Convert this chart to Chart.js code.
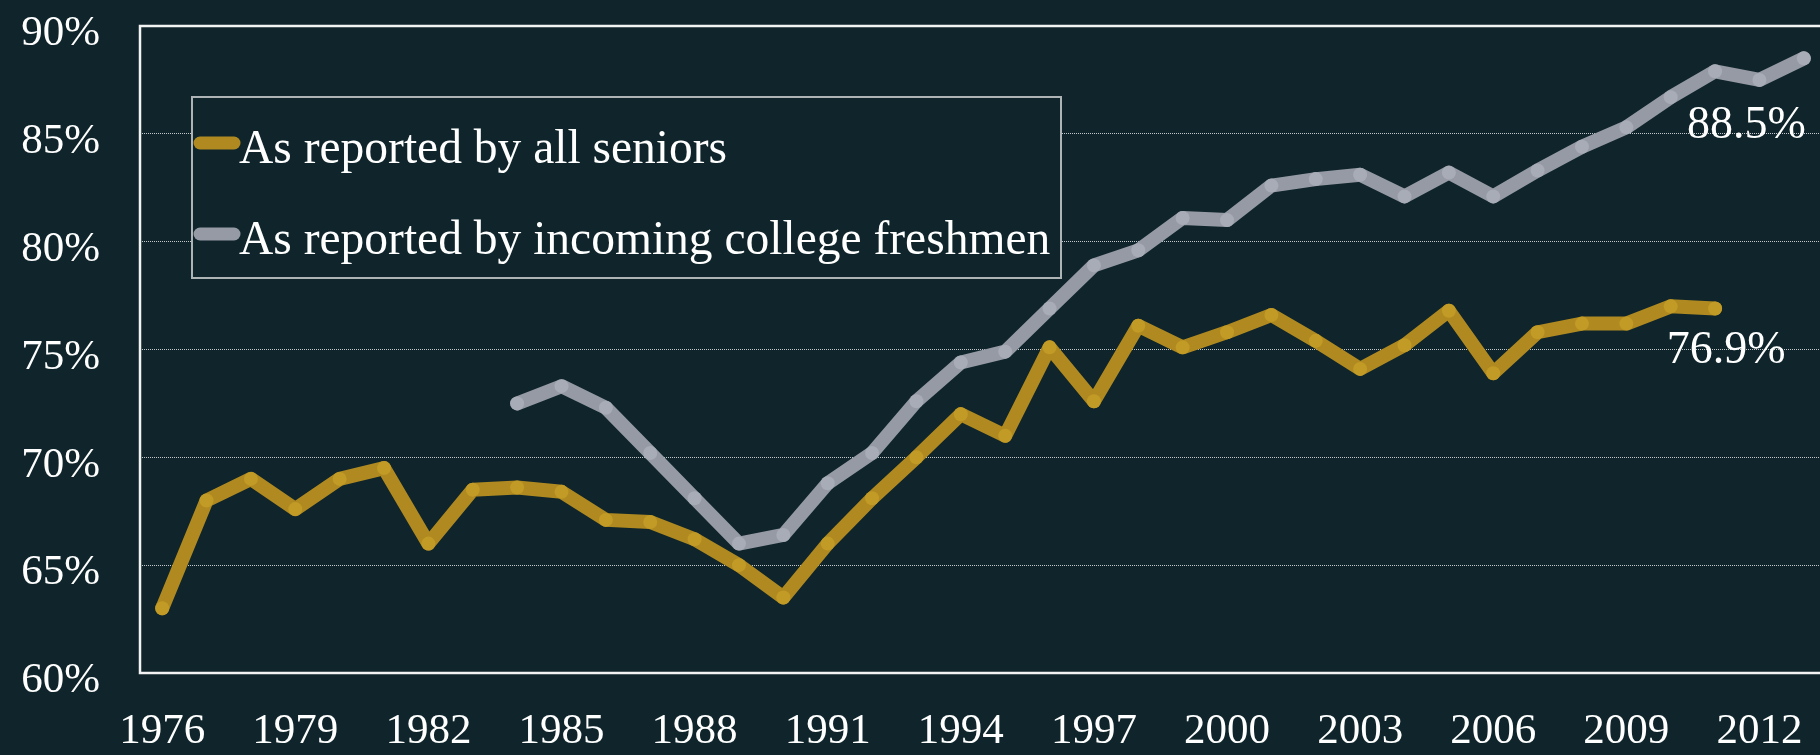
<!DOCTYPE html>
<html><head><meta charset="utf-8">
<script src="https://cdn.jsdelivr.net/npm/chart.js@4.4.1/dist/chart.umd.min.js"></script>
<style>
html,body{margin:0;padding:0;background:#0f252b;overflow:hidden;width:1820px;height:755px;}
canvas{display:block;}
</style></head><body>
<canvas id="c" width="1833" height="755" style="width:1833px;height:755px"></canvas>
<script>
const years = ['1976','1977','1978','1979','1980','1981','1982','1983','1984','1985','1986','1987','1988','1989','1990','1991','1992','1993','1994','1995','1996','1997','1998','1999','2000','2001','2002','2003','2004','2005','2006','2007','2008','2009','2010','2011','2012','2013'];
const seniors = [63.0,68.0,69.0,67.6,69.0,69.5,66.0,68.5,68.6,68.4,67.1,67.0,66.2,65.0,63.5,66.0,68.1,70.0,72.0,71.0,75.1,72.6,76.1,75.1,75.8,76.6,75.4,74.1,75.2,76.8,73.9,75.8,76.2,76.2,77.0,76.9,null,null];
const freshmen = [null,null,null,null,null,null,null,null,72.5,73.3,72.3,70.2,68.1,66.0,66.4,68.8,70.2,72.6,74.4,74.9,76.9,78.9,79.6,81.1,81.0,82.6,82.9,83.1,82.1,83.2,82.1,83.3,84.4,85.3,86.7,87.9,87.5,88.5];
const seriesLabels = ['As reported by all seniors','As reported by incoming college freshmen'];
const xTickLabels = ['1976','1979','1982','1985','1988','1991','1994','1997','2000','2003','2006','2009','2012'];
const yTickValues = [60,65,70,75,80,85,90];

const BG = '#0f252b';
const FONT = '"Liberation Serif", "Times New Roman", serif';
Chart.defaults.font.family = FONT;

const framePlugin = {
  id: 'frameLegend',
  beforeDatasetsDraw(chart) {
    const {ctx, chartArea: {left, top, right, bottom}} = chart;
    ctx.save();
    ctx.strokeStyle = '#f2f4f4';
    ctx.lineWidth = 2.5;
    ctx.beginPath();
    ctx.moveTo(right + 10, top);
    ctx.lineTo(left, top);
    ctx.lineTo(left, bottom);
    ctx.lineTo(right + 10, bottom);
    ctx.stroke();
    // legend box
    const bx = 192, by = 97, bw = 869, bh = 181;
    ctx.fillStyle = BG;
    ctx.fillRect(bx, by, bw, bh);
    ctx.strokeStyle = '#aeb3b5';
    ctx.lineWidth = 2;
    ctx.strokeRect(bx, by, bw, bh);
    chart.data.datasets.forEach((ds, i) => {
      const cy = 143 + i * 91;
      ctx.strokeStyle = ds.borderColor;
      ctx.lineWidth = 13;
      ctx.lineCap = 'round';
      ctx.beginPath();
      ctx.moveTo(200, cy);
      ctx.lineTo(234, cy);
      ctx.stroke();
      ctx.fillStyle = '#ffffff';
      ctx.font = '47.5px ' + FONT;
      ctx.textAlign = 'left';
      ctx.textBaseline = 'alphabetic';
      ctx.fillText(ds.label, 239, 163 + i * 91);
    });
    ctx.restore();
  }
};

const endLabelPlugin = {
  id: 'endLabels',
  afterDatasetsDraw(chart) {
    const ctx = chart.ctx;
    const offsets = [[11, 54], [-57.5, 80]];
    ctx.save();
    ctx.fillStyle = '#ffffff';
    ctx.font = '46px ' + FONT;
    ctx.textAlign = 'center';
    ctx.textBaseline = 'alphabetic';
    chart.data.datasets.forEach((ds, i) => {
      const meta = chart.getDatasetMeta(i);
      let last = ds.data.length - 1;
      while (last > 0 && ds.data[last] == null) last--;
      const pt = meta.data[last];
      ctx.fillText(ds.data[last].toFixed(1) + '%', pt.x + offsets[i][0], pt.y + offsets[i][1]);
    });
    ctx.restore();
  }
};

new Chart(document.getElementById('c'), {
  type: 'line',
  data: {
    labels: years,
    datasets: [
      {
        label: seriesLabels[0], data: seniors,
        borderColor: '#b08a20', backgroundColor: '#b08a20',
        borderWidth: 14, borderCapStyle: 'round', borderJoinStyle: 'round',
        pointRadius: 7, pointHoverRadius: 7, pointBorderWidth: 0,
        pointBackgroundColor: '#c29a26', tension: 0
      },
      {
        label: seriesLabels[1], data: freshmen,
        borderColor: '#969aa5', backgroundColor: '#969aa5',
        borderWidth: 14, borderCapStyle: 'round', borderJoinStyle: 'round',
        pointRadius: 7, pointHoverRadius: 7, pointBorderWidth: 0,
        pointBackgroundColor: '#a8acb6', tension: 0
      }
    ]
  },
  options: {
    responsive: false,
    animation: false,
    devicePixelRatio: 1,
    layout: { padding: { top: 26, left: 0, right: 0, bottom: 0 } },
    plugins: { legend: { display: false }, tooltip: { enabled: false } },
    scales: {
      x: {
        type: 'category',
        offset: true,
        grid: { display: false, drawTicks: false },
        border: { display: false },
        afterFit(s) { s.height = 82; s.paddingLeft = 0; s.paddingRight = 0; },
        ticks: {
          autoSkip: false, maxRotation: 0, minRotation: 0,
          color: '#ffffff', font: { size: 43 }, padding: 33,
          callback(val) { const lab = this.getLabelForValue(val); return xTickLabels.includes(lab) ? lab : ''; }
        }
      },
      y: {
        min: 60, max: 90,
        afterFit(s) { s.width = 140; s.paddingTop = 0; s.paddingBottom = 0; },
        afterBuildTicks(s) { s.ticks = yTickValues.map(v => ({ value: v })); },
        grid: {
          drawTicks: false, lineWidth: 1,
          color(c) { return (c.tick && (c.tick.value === 60 || c.tick.value === 90)) ? 'rgba(0,0,0,0)' : '#c3c8ca'; }
        },
        border: { display: false, dash: [1, 1] },
        ticks: {
          color: '#ffffff', font: { size: 43 }, padding: 40, labelOffset: 8,
          callback(v) { return v + '%'; }
        }
      }
    }
  },
  plugins: [framePlugin, endLabelPlugin]
});
</script>
</body></html>
